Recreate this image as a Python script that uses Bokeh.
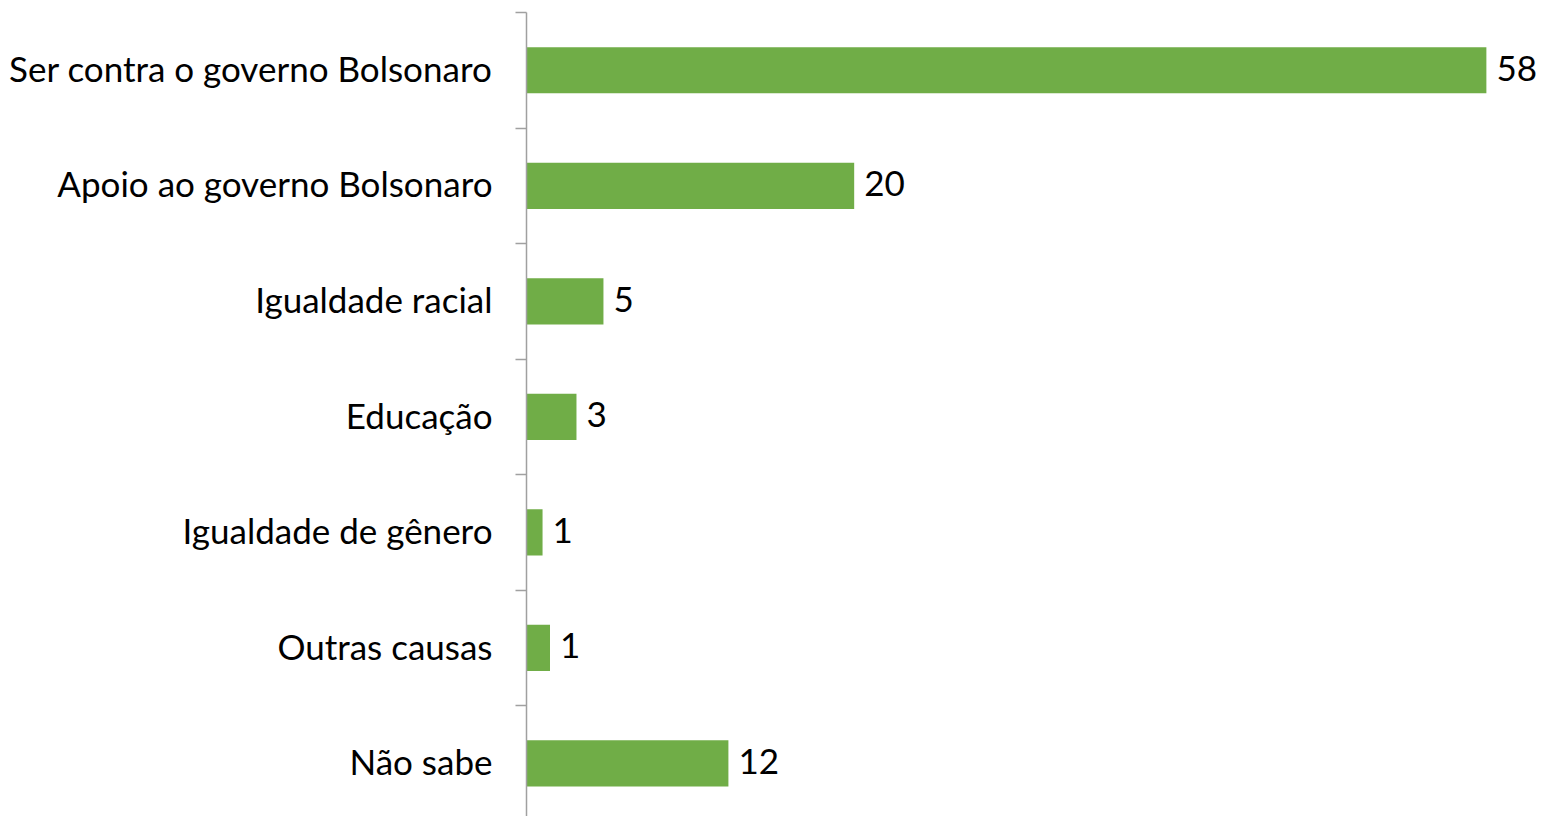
from bokeh.plotting import figure
from bokeh.models import Range1d, LinearAxis, FixedTicker, ColumnDataSource
from bokeh.core.properties import value
from bokeh.embed import file_html
from bokeh.resources import INLINE

categories = [
    "Ser contra o governo Bolsonaro",
    "Apoio ao governo Bolsonaro",
    "Igualdade racial",
    "Educação",
    "Igualdade de gênero",
    "Outras causas",
    "Não sabe",
]
values = [58, 19.8, 4.65, 3.02, 0.97, 1.42, 12.2]
value_labels = ["58", "20", "5", "3", "1", "1", "12"]

FONT = "Lato"
FSIZE = "35px"
BAR_COLOR = "#70AD47"
AXIS_COLOR = "#A0A0A0"

positions = [i + 0.5 for i in range(len(categories))]
boundaries = list(range(len(categories) + 1))
src = ColumnDataSource(dict(y=positions, v=values, lab=value_labels))

p = figure(
    width=1540, height=816,
    output_backend="svg", toolbar_location=None,
    x_range=Range1d(0, 61.27), y_range=Range1d(6.96, 0),
    x_axis_location=None, y_axis_location=None,
    min_border_left=526, min_border_right=0, min_border_top=12, min_border_bottom=0,
)
p.outline_line_color = None
p.xgrid.visible = False
p.ygrid.visible = False

p.hbar(y="y", right="v", left=0, height=0.4, source=src,
       fill_color=BAR_COLOR, line_color=None)
p.text(x="v", y="y", text="lab", source=src, x_offset=10, y_offset=-2,
       text_align="left", text_baseline="middle",
       text_font=value(FONT), text_font_size=FSIZE, text_color="#000000")

tick_axis = LinearAxis(
    ticker=FixedTicker(ticks=boundaries),
    major_label_overrides={b: "" for b in boundaries},
    axis_line_color=AXIS_COLOR, axis_line_width=1.5,
    major_tick_line_color=AXIS_COLOR, major_tick_line_width=1.5,
    major_tick_out=11, major_tick_in=0,
    minor_tick_line_color=None,
    major_label_standoff=0,
)
label_axis = LinearAxis(
    ticker=FixedTicker(ticks=[pos - 0.02 for pos in positions]),
    major_label_overrides={pos - 0.02: c for pos, c in zip(positions, categories)},
    axis_line_color=None, major_tick_line_color=None, minor_tick_line_color=None,
    major_tick_out=0, major_tick_in=0, major_label_standoff=23,
    major_label_text_font=FONT, major_label_text_font_size=FSIZE,
    major_label_text_color="#000000",
)
p.add_layout(tick_axis, "left")
p.add_layout(label_axis, "left")

open("out.html", "w").write(file_html(p, INLINE))
